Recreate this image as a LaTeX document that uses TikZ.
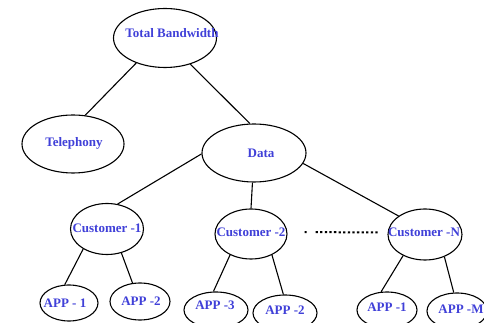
\documentclass[tikz,border=0pt]{standalone}
\usepackage{tikz}
\usetikzlibrary{shapes.geometric}
\usepackage{xcolor}
\usepackage{fontspec}
\setmainfont{Liberation Serif}
\definecolor{lblblue}{RGB}{64,64,216}

\begin{document}
\begin{tikzpicture}[x=1pt,y=1pt,
  bub/.style={draw, ellipse, line width=1.1pt, inner sep=0pt},
  lbl/.style={text=lblblue, font=\fontsize{13}{15}\selectfont\bfseries, inner sep=0pt},
  link/.style={line width=1.1pt}]
\useasboundingbox (0,0) rectangle (484,323);

% top of the tree
\node[bub, minimum width=103pt, minimum height=59pt, label={[lbl,xshift=7pt,yshift=5pt]center:Total Bandwidth}] (tb) at (165,285) {};
\node[bub, minimum width=102pt, minimum height=58pt, label={[lbl,xshift=1pt,yshift=1pt]center:Telephony}] (tel) at (73,179) {};
\node[bub, minimum width=104pt, minimum height=58pt, label={[lbl,xshift=7pt]center:Data}] (data) at (254,170) {};

% customers
\node[bub, minimum width=73pt, minimum height=51pt, label={[lbl,yshift=1pt]center:Customer -1}] (c1) at (107,94) {};
\node[bub, minimum width=72pt, minimum height=50pt, label={[lbl,yshift=2pt]center:Customer -2}] (c2) at (251,89) {};
\node[bub, minimum width=74pt, minimum height=51pt, label={[lbl,xshift=-1pt,yshift=2pt]center:Customer -N}] (cN) at (425,88.5) {};

% applications
\node[bub, minimum width=58pt, minimum height=36pt, label={[lbl,xshift=-4pt]center:APP - 1}] (a1) at (69,20) {};
\node[bub, minimum width=60pt, minimum height=37pt, label={[lbl,xshift=1pt]center:APP -2}] (a2) at (140,21.5) {};
\node[bub, minimum width=64pt, minimum height=36pt, label={[lbl,xshift=-1pt,yshift=5pt]center:APP -3}] (a3) at (216,13) {};
\node[bub, minimum width=64pt, minimum height=36pt, label={[lbl,yshift=3pt]center:APP -2}] (a4) at (285,10) {};
\node[bub, minimum width=60pt, minimum height=36pt, label={[lbl,yshift=3pt]center:APP -1}] (a5) at (387,13) {};
\node[bub, minimum width=60pt, minimum height=36pt, label={[lbl,xshift=4pt,yshift=2pt]center:APP -M}] (a6) at (457,12) {};

% links
\draw[link] (tb.221) -- (tel.67);
\draw[link] (tb.-46) -- (data.98);
\draw[link] (data.181) -- (c1.67);
\draw[link] (data.-93) -- (c2.90);
\draw[link] (data.-12) -- (cN.145);
\draw[link] (c1.-140) -- (a1.103);
\draw[link] (c1.-59) -- (a2.112);
\draw[link] (c2.-135) -- (a3.98);
\draw[link] (c2.-45) -- (a4.95);
\draw[link] (cN.-136) -- (a5.108);
\draw[link] (cN.-49) -- (a6.100);

% more customers in between
\draw[line width=2pt, shorten <=17pt, shorten >=8pt,
  dash pattern=on 2pt off 9pt on 2.3pt off 2.3pt on 2.3pt off 2.3pt on 2.3pt off 2.3pt on 2.3pt off 2.3pt on 2.3pt off 2.3pt on 2.3pt off 2.3pt on 2.3pt off 2.3pt on 2.3pt off 2.3pt on 2.3pt off 2.3pt on 2.3pt off 2.3pt on 2.3pt off 2.3pt on 2.3pt off 2.3pt on 2.3pt off 2.3pt on 2.3pt off 2.3pt on 2.3pt off 40pt]
  ([yshift=2pt]c2.east) -- ([yshift=2pt]cN.west);
\end{tikzpicture}
\end{document}
